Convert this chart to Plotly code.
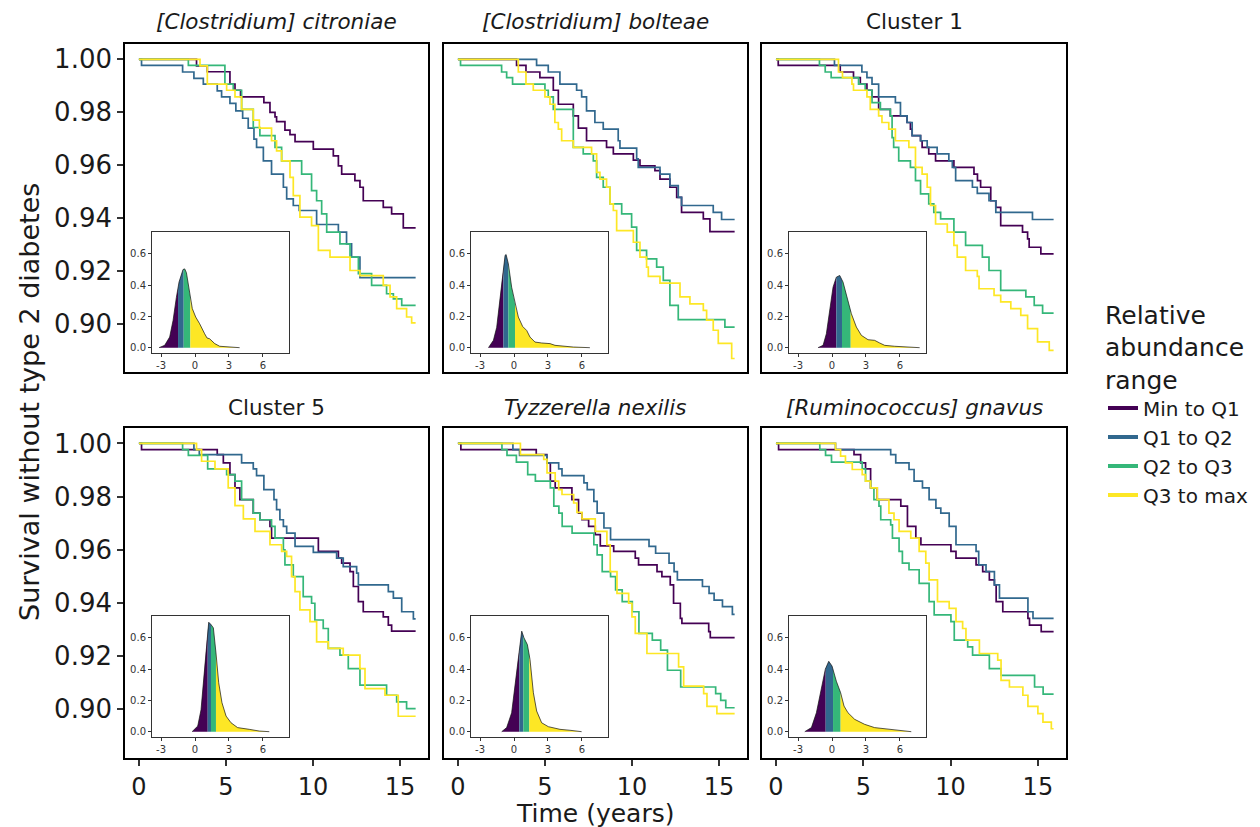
import numpy as np
import plotly.graph_objects as go

W, H = 1260, 827
COLORS = ["#440154", "#31688E", "#35B779", "#FDE725"]
SERIES = ["Min to Q1", "Q1 to Q2", "Q2 to Q3", "Q3 to max"]
TITLES = ["<i>[Clostridium] citroniae</i>", "<i>[Clostridium] bolteae</i>", "Cluster 1",
          "Cluster 5", "<i>Tyzzerella nexilis</i>", "<i>[Ruminococcus] gnavus</i>"]
END_T = 15.9
X_TICKS = [0, 5, 10, 15]
Y_TICKS = [0.90, 0.92, 0.94, 0.96, 0.98, 1.00]
INSET_X_TICKS = [-3, 0, 3, 6]
INSET_Y_TICKS = [0.0, 0.2, 0.4, 0.6]

# ---------------- Panel 1: [Clostridium] citroniae ----------------
cit_q1_t = [3.31, 3.93, 5.23, 5.52, 5.84, 7.18, 7.53, 7.82, 7.91, 8.39, 8.68, 8.97, 10.02, 11.17, 11.46, 11.65, 12.41, 12.70, 12.89, 14.04, 14.52, 15.19]
cit_q1_s = [.9975, .9953, .9906, .9883, .9858, .9836, .9799, .9782, .9764, .9732, .9715, .9689, .9660, .9635, .9597, .9566, .9541, .9516, .9465, .9440, .9415, .9362]
cit_q2_t = [0.15, 2.51, 3.16, 3.70, 4.50, 4.75, 5.23, 5.57, 5.96, 6.28, 6.61, 6.76, 7.15, 7.62, 8.30, 8.49, 8.87, 9.21, 10.21, 11.46, 11.93, 12.22, 12.70]
cit_q2_s = [.9977, .9952, .9928, .9906, .9881, .9858, .9833, .9805, .9777, .9740, .9698, .9667, .9616, .9566, .9516, .9472, .9447, .9428, .9375, .9346, .9302, .9252, .9174]
cit_q3_t = [2.84, 4.94, 5.42, 5.90, 6.57, 6.95, 7.82, 8.20, 9.35, 9.92, 10.21, 10.50, 10.79, 11.55, 12.13, 12.61, 13.37, 14.23, 14.62, 15.10]
cit_q3_s = [.9977, .9906, .9883, .9811, .9742, .9711, .9667, .9616, .9566, .9503, .9465, .9415, .9346, .9302, .9252, .9189, .9145, .9113, .9094, .9069]
cit_q4_t = [3.51, 3.93, 5.04, 5.52, 5.90, 6.57, 6.92, 7.62, 7.91, 8.20, 8.68, 8.87, 9.25, 9.92, 10.31, 10.98, 12.13, 12.70, 14.04, 14.43, 14.81, 15.38, 15.67]
cit_q4_s = [.9975, .9906, .9883, .9858, .9811, .9770, .9740, .9692, .9654, .9616, .9553, .9484, .9403, .9371, .9277, .9252, .9201, .9182, .9145, .9101, .9057, .9025, .9003]
cit_dens_x = [-3.18, -2.68, -2.24, -1.94, -1.65, -1.41, -1.06, -0.91, -0.76, -0.47, -0.24, 0.06, 0.41, 0.85, 1.06, 1.29, 1.74, 2.18, 3.06, 3.94]
cit_dens_y = [0, 0.015, 0.068, 0.174, 0.32, 0.42, 0.50, 0.504, 0.48, 0.345, 0.25, 0.196, 0.153, 0.089, 0.062, 0.057, 0.026, 0.009, 0.004, 0]
cit_quart = [-1.50, -1.00, -0.41]

# ---------------- Panel 2: [Clostridium] bolteae ----------------
bol_q1_t = [3.37, 3.91, 4.71, 5.48, 5.77, 6.63, 6.92, 7.39, 8.54, 8.93, 10.08, 10.46, 11.32, 11.61, 12.18, 12.57, 12.85, 14.10, 14.48]
bol_q1_s = [.9977, .9952, .9931, .9883, .9830, .9786, .9740, .9692, .9667, .9642, .9619, .9597, .9579, .9547, .9516, .9478, .9421, .9396, .9348]
bol_q2_t = [4.52, 5.19, 5.86, 6.82, 7.11, 7.39, 7.87, 8.35, 9.21, 9.31, 10.27, 10.36, 11.61, 12.18, 12.66, 12.85, 14.67, 15.15]
bol_q2_s = [.9977, .9952, .9906, .9883, .9858, .9805, .9761, .9736, .9692, .9664, .9623, .9591, .9566, .9522, .9478, .9447, .9421, .9394]
bol_q3_t = [0.15, 2.51, 2.80, 3.14, 5.00, 5.19, 5.48, 6.63, 7.20, 7.78, 7.97, 8.35, 8.74, 9.41, 9.98, 10.27, 10.84, 11.42, 11.80, 12.18, 12.66, 15.34]
bol_q3_s = [.9977, .9952, .9931, .9906, .9883, .9858, .9811, .9667, .9642, .9616, .9553, .9516, .9453, .9415, .9365, .9277, .9245, .9214, .9164, .9069, .9015, .8987]
bol_q4_t = [3.47, 3.91, 4.33, 5.00, 5.29, 5.57, 5.77, 5.96, 6.63, 7.68, 7.97, 8.16, 8.54, 8.74, 8.93, 9.12, 10.08, 10.46, 10.84, 10.94, 11.61, 12.76, 13.33, 14.10, 14.29, 14.67, 14.96, 15.73]
bol_q4_s = [.9952, .9906, .9883, .9858, .9830, .9761, .9736, .9692, .9667, .9642, .9572, .9547, .9516, .9453, .9428, .9352, .9308, .9252, .9214, .9179, .9153, .9101, .9075, .9050, .9013, .8975, .8925, .8868]
bol_dens_x = [-2.26, -1.82, -1.53, -1.24, -1.0, -0.79, -0.7, -0.5, -0.21, 0.09, 0.38, 0.76, 1.12, 1.41, 1.85, 2.44, 3.18, 3.62, 4.35, 5.24, 6.7]
bol_dens_y = [0, 0.047, 0.13, 0.30, 0.47, 0.59, 0.596, 0.536, 0.387, 0.28, 0.196, 0.136, 0.11, 0.068, 0.036, 0.03, 0.026, 0.015, 0.009, 0.004, 0]
bol_quart = [-0.94, -0.50, 0.09]

# ---------------- Panel 3: Cluster 1 ----------------
cl1_q1_t = [0.13, 3.68, 4.44, 4.83, 5.21, 5.50, 5.88, 6.55, 7.51, 7.70, 7.80, 8.28, 8.37, 8.75, 9.14, 10.19, 11.34, 11.54, 11.72, 12.30, 12.59, 12.87, 14.12, 14.41, 14.50, 15.17]
cl1_q1_s = [.9977, .9952, .9931, .9906, .9883, .9858, .9811, .9786, .9761, .9736, .9711, .9692, .9667, .9642, .9616, .9591, .9566, .9541, .9516, .9465, .9440, .9371, .9346, .9321, .9289, .9264]
cl1_q2_t = [3.35, 4.92, 5.21, 5.50, 5.88, 6.84, 7.13, 7.51, 7.80, 8.28, 8.66, 9.23, 9.90, 10.10, 10.29, 11.25, 11.53, 12.20, 12.59, 14.69]
cl1_q2_s = [.9977, .9952, .9931, .9906, .9858, .9836, .9786, .9761, .9711, .9692, .9667, .9642, .9616, .9591, .9541, .9516, .9493, .9465, .9421, .9394]
cl1_q3_t = [2.49, 2.82, 3.16, 4.73, 5.11, 5.50, 5.98, 6.55, 6.65, 6.74, 7.03, 7.70, 7.99, 8.28, 8.75, 9.04, 9.43, 10.19, 10.86, 11.82, 12.20, 12.87, 14.31, 14.79, 15.27]
cl1_q3_s = [.9977, .9952, .9931, .9906, .9883, .9836, .9811, .9786, .9704, .9667, .9616, .9591, .9541, .9491, .9453, .9421, .9396, .9346, .9296, .9252, .9201, .9126, .9101, .9069, .9040]
cl1_q4_t = [3.58, 3.81, 4.35, 4.44, 5.21, 5.40, 5.88, 6.07, 6.46, 6.84, 7.61, 7.99, 8.37, 8.66, 8.85, 9.14, 9.81, 10.19, 10.38, 10.86, 11.53, 11.63, 12.49, 12.87, 13.45, 14.02, 14.41, 14.98, 15.65]
cl1_q4_s = [.9952, .9931, .9906, .9883, .9858, .9811, .9786, .9761, .9736, .9692, .9667, .9591, .9566, .9516, .9447, .9377, .9346, .9296, .9252, .9201, .9179, .9132, .9107, .9082, .9057, .9031, .8981, .8931, .8899]
cl1_dens_x = [-1.24, -0.79, -0.5, -0.21, 0.09, 0.38, 0.68, 0.97, 1.41, 1.71, 2.15, 2.59, 3.18, 3.76, 4.21, 4.65, 5.53, 6.7, 7.74]
cl1_dens_y = [0, 0.015, 0.089, 0.238, 0.387, 0.451, 0.462, 0.42, 0.30, 0.217, 0.132, 0.079, 0.051, 0.047, 0.03, 0.015, 0.009, 0.004, 0]
cl1_quart = [0.38, 0.88, 1.65]

# ---------------- Panel 4: Cluster 5 ----------------
cl5_q1_t = [0.15, 4.50, 4.85, 5.23, 5.52, 5.80, 6.57, 6.95, 7.53, 7.62, 10.31, 11.46, 11.65, 12.13, 12.32, 12.61, 12.89, 14.04, 14.33, 14.52]
cl5_q1_s = [.9977, .9958, .9927, .9883, .9833, .9789, .9738, .9713, .9688, .9644, .9594, .9569, .9550, .9518, .9462, .9405, .9367, .9348, .9317, .9294]
cl5_q2_t = [3.16, 3.47, 5.90, 6.57, 6.76, 7.18, 7.76, 7.91, 8.10, 8.30, 8.49, 8.97, 10.02, 11.36, 11.74, 12.51, 12.61, 14.33, 14.62, 15.10, 15.77]
cl5_q2_s = [.9977, .9958, .9927, .9904, .9879, .9826, .9789, .9751, .9713, .9688, .9663, .9613, .9590, .9569, .9537, .9512, .9468, .9443, .9418, .9367, .9340]
cl5_q3_t = [2.51, 2.84, 3.95, 5.04, 5.52, 5.90, 6.57, 6.95, 7.62, 7.82, 8.30, 8.39, 8.87, 9.44, 9.92, 10.11, 10.59, 10.88, 11.55, 12.03, 12.70, 14.23, 14.81, 15.38]
cl5_q3_s = [.9977, .9955, .9904, .9883, .9858, .9789, .9738, .9713, .9688, .9644, .9600, .9543, .9499, .9424, .9399, .9336, .9304, .9229, .9204, .9153, .9091, .9053, .9028, .9003]
cl5_q4_t = [3.31, 3.60, 4.37, 5.13, 5.52, 6.00, 6.67, 7.53, 8.20, 8.49, 8.77, 8.97, 9.25, 9.83, 10.21, 10.88, 11.74, 12.70, 12.99, 14.14, 14.90]
cl5_q4_s = [.9977, .9933, .9904, .9833, .9766, .9716, .9669, .9619, .9594, .9575, .9499, .9443, .9374, .9330, .9254, .9229, .9204, .9153, .9078, .9053, .8974]
cl5_dens_x = [-0.26, 0.24, 0.53, 0.82, 1.03, 1.21, 1.41, 1.62, 1.85, 2.09, 2.38, 2.74, 3.18, 3.76, 4.79, 5.68, 6.56]
cl5_dens_y = [0, 0.036, 0.14, 0.377, 0.589, 0.70, 0.685, 0.664, 0.504, 0.313, 0.185, 0.10, 0.057, 0.026, 0.015, 0.004, 0]
cl5_quart = [1.12, 1.41, 1.85]

# ---------------- Panel 5: Tyzzerella nexilis ----------------
tyz_q1_t = [0.17, 4.50, 5.11, 5.31, 5.59, 6.55, 6.93, 7.13, 7.51, 7.89, 8.18, 8.95, 10.19, 10.38, 11.44, 11.72, 12.20, 12.39, 12.78, 12.87, 14.41, 14.50]
tyz_q1_s = [.9977, .9958, .9927, .9858, .9833, .9789, .9738, .9713, .9688, .9657, .9615, .9594, .9569, .9543, .9518, .9499, .9468, .9399, .9342, .9323, .9292, .9270]
tyz_q2_t = [3.16, 3.54, 5.11, 5.79, 5.98, 7.24, 7.43, 7.81, 8.00, 8.39, 8.77, 10.98, 11.36, 12.13, 12.42, 12.61, 14.05, 14.43, 14.72, 15.20, 15.77]
tyz_q2_s = [.9977, .9955, .9927, .9904, .9879, .9852, .9826, .9782, .9738, .9682, .9638, .9613, .9587, .9550, .9518, .9487, .9462, .9436, .9411, .9386, .9357]
tyz_q3_t = [2.53, 2.82, 3.36, 4.01, 4.45, 5.31, 5.51, 5.80, 5.99, 6.56, 7.81, 8.00, 8.29, 8.77, 9.06, 9.44, 10.02, 10.40, 11.17, 11.65, 12.04, 12.80, 14.81, 15.10, 15.39]
tyz_q3_s = [.9977, .9955, .9930, .9883, .9858, .9833, .9764, .9738, .9688, .9663, .9619, .9581, .9518, .9499, .9449, .9405, .9367, .9286, .9260, .9223, .9147, .9084, .9059, .9034, .9006]
tyz_q4_t = [3.59, 4.93, 5.12, 5.59, 5.79, 5.98, 6.65, 6.84, 7.13, 7.89, 8.56, 8.75, 9.14, 9.81, 10.00, 10.19, 10.86, 12.68, 12.97, 14.12, 14.31, 14.88]
tyz_q4_s = [.9958, .9940, .9889, .9858, .9826, .9808, .9776, .9741, .9716, .9669, .9619, .9518, .9436, .9399, .9348, .9286, .9210, .9160, .9087, .9059, .9011, .8984]
tyz_dens_x = [-1.09, -0.65, -0.21, 0.18, 0.47, 0.68, 0.88, 1.18, 1.41, 1.71, 2.0, 2.44, 3.03, 4.06, 4.94, 5.97]
tyz_dens_y = [0, 0.026, 0.121, 0.334, 0.526, 0.643, 0.60, 0.557, 0.462, 0.249, 0.132, 0.057, 0.032, 0.015, 0.009, 0]
tyz_quart = [0.47, 0.82, 1.35]

# ---------------- Panel 6: [Ruminococcus] gnavus ----------------
rum_q1_t = [0.15, 4.47, 4.85, 5.13, 5.42, 5.80, 7.15, 7.53, 8.01, 8.30, 10.02, 10.31, 11.46, 11.84, 12.22, 12.51, 12.61, 12.99, 14.43, 14.52, 15.19]
rum_q1_s = [.9977, .9958, .9927, .9904, .9833, .9789, .9764, .9688, .9644, .9619, .9594, .9569, .9543, .9518, .9487, .9468, .9405, .9367, .9342, .9317, .9292]
rum_q2_t = [3.41, 6.57, 6.86, 7.62, 7.91, 8.39, 8.77, 9.16, 9.44, 9.92, 10.31, 11.46, 11.61, 12.03, 12.51, 12.80, 14.43, 14.72]
rum_q2_s = [.9977, .9958, .9927, .9902, .9858, .9833, .9789, .9757, .9738, .9688, .9619, .9594, .9543, .9518, .9468, .9418, .9367, .9342]
rum_q3_t = [2.51, 2.84, 3.18, 4.94, 5.13, 5.42, 5.61, 5.90, 6.00, 6.57, 6.67, 7.05, 7.24, 7.62, 8.20, 8.77, 9.06, 10.02, 10.21, 10.98, 11.26, 12.22, 12.89, 14.81, 15.30]
rum_q3_s = [.9977, .9955, .9930, .9904, .9858, .9833, .9789, .9764, .9713, .9694, .9644, .9594, .9550, .9525, .9474, .9405, .9355, .9330, .9260, .9235, .9204, .9153, .9128, .9084, .9057]
rum_q4_t = [3.41, 3.70, 3.98, 4.37, 4.94, 5.13, 5.42, 5.80, 6.47, 6.76, 7.05, 7.72, 8.20, 8.58, 8.77, 9.25, 9.92, 10.31, 10.69, 10.88, 11.65, 12.70, 12.89, 13.37, 14.14, 14.43, 15.00, 15.29, 15.77]
rum_q4_s = [.9977, .9952, .9927, .9902, .9883, .9858, .9833, .9789, .9738, .9713, .9669, .9644, .9594, .9550, .9487, .9405, .9380, .9330, .9304, .9260, .9210, .9185, .9109, .9084, .9053, .9011, .8984, .8952, .8927]
rum_dens_x = [-2.41, -1.82, -1.38, -0.94, -0.59, -0.29, 0.0, 0.38, 0.76, 1.06, 1.41, 2.0, 2.88, 3.76, 4.94, 6.12, 7.0]
rum_dens_y = [0, 0.026, 0.121, 0.29, 0.40, 0.45, 0.42, 0.323, 0.249, 0.164, 0.121, 0.079, 0.047, 0.026, 0.015, 0.004, 0]
rum_quart = [-0.56, 0.09, 0.76]

PANELS = [
    ([(cit_q1_t, cit_q1_s), (cit_q2_t, cit_q2_s), (cit_q3_t, cit_q3_s), (cit_q4_t, cit_q4_s)], cit_dens_x, cit_dens_y, cit_quart),
    ([(bol_q1_t, bol_q1_s), (bol_q2_t, bol_q2_s), (bol_q3_t, bol_q3_s), (bol_q4_t, bol_q4_s)], bol_dens_x, bol_dens_y, bol_quart),
    ([(cl1_q1_t, cl1_q1_s), (cl1_q2_t, cl1_q2_s), (cl1_q3_t, cl1_q3_s), (cl1_q4_t, cl1_q4_s)], cl1_dens_x, cl1_dens_y, cl1_quart),
    ([(cl5_q1_t, cl5_q1_s), (cl5_q2_t, cl5_q2_s), (cl5_q3_t, cl5_q3_s), (cl5_q4_t, cl5_q4_s)], cl5_dens_x, cl5_dens_y, cl5_quart),
    ([(tyz_q1_t, tyz_q1_s), (tyz_q2_t, tyz_q2_s), (tyz_q3_t, tyz_q3_s), (tyz_q4_t, tyz_q4_s)], tyz_dens_x, tyz_dens_y, tyz_quart),
    ([(rum_q1_t, rum_q1_s), (rum_q2_t, rum_q2_s), (rum_q3_t, rum_q3_s), (rum_q4_t, rum_q4_s)], rum_dens_x, rum_dens_y, rum_quart),
]

# ---------------- layout geometry (pixels) ----------------
PANEL_X = [(125, 428), (444, 747), (762, 1066)]
PANEL_Y = [(44, 372), (428, 758)]
INSET_DX, INSET_W, INSET_DY, INSET_H = 27, 137, 188, 121
FONT = "DejaVu Sans"
TXT = "#1a1a1a"

def fx(px):
    return px / W

def fy(py):
    return 1 - py / H

fig = go.Figure()
layout = dict(
    width=W, height=H, margin=dict(l=0, r=0, t=0, b=0),
    paper_bgcolor="white", plot_bgcolor="white",
    font=dict(family=FONT, color=TXT),
    showlegend=True,
)
annotations = []

for i, (curves, dx, dy, quart) in enumerate(PANELS):
    row, col = divmod(i, 3)
    n = i + 1
    m = i + 7
    x0, x1 = PANEL_X[col]
    y0, y1 = PANEL_Y[row]
    xa, ya = ("xaxis" if n == 1 else f"xaxis{n}"), ("yaxis" if n == 1 else f"yaxis{n}")
    xr = "x" if n == 1 else f"x{n}"
    yr = "y" if n == 1 else f"y{n}"
    layout[xa] = dict(
        domain=[fx(x0), fx(x1)], anchor=yr,
        range=[-0.8, 16.61], showgrid=False, zeroline=False,
        showline=True, mirror=True, linecolor="black", linewidth=1.6,
        tickvals=X_TICKS, ticks="outside" if row == 1 else "", ticklen=6, tickwidth=1.5,
        tickcolor="#333333", showticklabels=(row == 1),
        tickfont=dict(size=24, color=TXT, family=FONT),
    )
    layout[ya] = dict(
        domain=[fy(y1), fy(y0)], anchor=xr,
        range=[0.8817, 1.0058], showgrid=False, zeroline=False,
        showline=True, mirror=True, linecolor="black", linewidth=1.6,
        tickvals=Y_TICKS, ticktext=[f"{v:.2f}" for v in Y_TICKS],
        ticks="outside" if col == 0 else "", ticklen=6, tickwidth=1.5,
        tickcolor="#333333", showticklabels=(col == 0),
        tickfont=dict(size=26, color=TXT, family=FONT),
    )
    # inset axes
    ix0 = x0 + INSET_DX
    iy0 = y0 + INSET_DY
    layout[f"xaxis{m}"] = dict(
        domain=[fx(ix0), fx(ix0 + INSET_W)], anchor=f"y{m}",
        range=[-3.8, 8.3], showgrid=False, zeroline=False,
        showline=True, mirror=True, linecolor="#333333", linewidth=1,
        tickvals=INSET_X_TICKS, ticktext=[str(v) for v in INSET_X_TICKS],
        ticks="outside", ticklen=3, tickwidth=1, tickcolor="#333333",
        tickfont=dict(size=10, color="#333333", family=FONT),
    )
    layout[f"yaxis{m}"] = dict(
        domain=[fy(iy0 + INSET_H), fy(iy0)], anchor=f"x{m}",
        range=[-0.034, 0.74], showgrid=False, zeroline=False,
        showline=True, mirror=True, linecolor="#333333", linewidth=1,
        tickvals=INSET_Y_TICKS, ticktext=[f"{v:.1f}" for v in INSET_Y_TICKS],
        ticks="outside", ticklen=3, tickwidth=1, tickcolor="#333333",
        tickfont=dict(size=10, color="#333333", family=FONT),
    )

    # survival step curves
    for k, (t, s) in enumerate(curves):
        fig.add_trace(go.Scatter(
            x=[0] + list(t) + [END_T], y=[1.0] + list(s) + [s[-1]],
            mode="lines", line=dict(color=COLORS[k], width=1.7, shape="hv"),
            xaxis=xr, yaxis=yr, showlegend=False, hoverinfo="skip",
        ))

    # density with quartile-coloured fills
    dx_a = np.array(dx, dtype=float)
    dy_a = np.array(dy, dtype=float)
    bounds = [dx_a[0]] + list(quart) + [dx_a[-1]]
    for k in range(4):
        lo, hi = bounds[k], bounds[k + 1]
        inner = (dx_a > lo) & (dx_a < hi)
        px = [lo] + list(dx_a[inner]) + [hi, hi, lo]
        py = [float(np.interp(lo, dx_a, dy_a))] + list(dy_a[inner]) + [float(np.interp(hi, dx_a, dy_a)), 0, 0]
        fig.add_trace(go.Scatter(
            x=px, y=py, mode="lines", fill="toself", fillcolor=COLORS[k],
            line=dict(width=0, color=COLORS[k]),
            xaxis=f"x{m}", yaxis=f"y{m}", showlegend=False, hoverinfo="skip",
        ))
    fig.add_trace(go.Scatter(
        x=dx, y=dy, mode="lines", line=dict(color="#111111", width=0.7),
        xaxis=f"x{m}", yaxis=f"y{m}", showlegend=False, hoverinfo="skip",
    ))

    # panel title
    cx = (x0 + x1) / 2
    ty = 22 if row == 0 else 407
    annotations.append(dict(
        text=TITLES[i], x=fx(cx), y=fy(ty), xref="paper", yref="paper",
        xanchor="center", yanchor="middle", showarrow=False,
        font=dict(size=21.5, family=FONT, color=TXT),
    ))

# legend entries
for k in range(4):
    fig.add_trace(go.Scatter(
        x=[None], y=[None], mode="lines", name=SERIES[k],
        line=dict(color=COLORS[k], width=4), showlegend=True,
    ))

annotations.append(dict(
    text="Time (years)", x=fx(595), y=fy(813), xref="paper", yref="paper",
    xanchor="center", yanchor="middle", showarrow=False,
    font=dict(size=25, family=FONT, color=TXT),
))
annotations.append(dict(
    text="Survival without type 2 diabetes", x=fx(30), y=fy(402), xref="paper", yref="paper",
    xanchor="center", yanchor="middle", showarrow=False, textangle=-90,
    font=dict(size=27, family=FONT, color=TXT),
))

layout["annotations"] = annotations
layout["legend"] = dict(
    x=fx(1103), y=fy(291), xanchor="left", yanchor="top",
    title=dict(text="Relative<br>abundance<br>range", font=dict(size=25, family=FONT, color=TXT)),
    font=dict(size=20, family=FONT, color=TXT),
    bgcolor="rgba(0,0,0,0)", borderwidth=0, itemwidth=30, tracegroupgap=0,
)
fig.update_layout(**layout)
fig.write_html(
    "out.html",
    config={"displayModeBar": False},
    post_script="document.body.style.margin='0';document.body.style.overflow='hidden';",
)
